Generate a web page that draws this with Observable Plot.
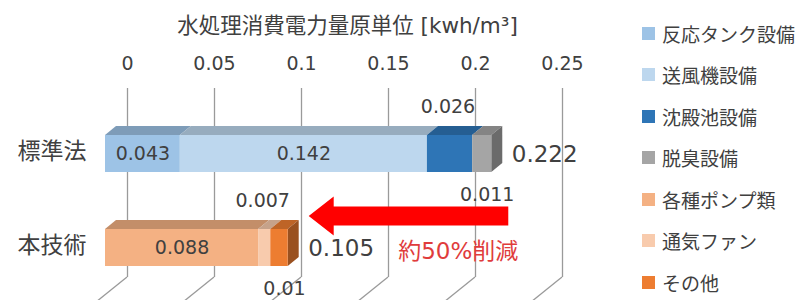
<!DOCTYPE html>
<html><head><meta charset="utf-8">
<script src="https://cdn.jsdelivr.net/npm/d3@7"></script>
<script src="https://cdn.jsdelivr.net/npm/@observablehq/plot@0.6"></script>
<style>
body{margin:0;background:#fff;}
#wrap{position:relative;width:797px;height:300px;overflow:hidden;background:#fff;}
#chart{position:absolute;left:0;top:0;}
#legend{position:absolute;left:642px;top:12.25px;}
.item{display:flex;align-items:center;height:41.5px;font-family:'Noto Sans CJK JP',sans-serif;font-size:19px;color:#404040;white-space:nowrap;}
.sw{width:13px;height:13px;margin-right:7px;flex:none;}
</style></head>
<body><div id="wrap"><div id="chart"></div><div id="legend"></div></div>
<script>
// ---- data ----
const title = "水処理消費電力量原単位 [kwh/m³]";
const categories = ["標準法", "本技術"];
const seriesNames = ["反応タンク設備", "送風機設備", "沈殿池設備", "脱臭設備", "各種ポンプ類", "通気ファン", "その他"];
const seriesColors = ["#9DC3E6", "#BDD7EE", "#2E75B6", "#A5A5A5", "#F4B183", "#F8CBAD", "#ED7D31"];
const standardSeries = ["反応タンク設備", "送風機設備", "沈殿池設備", "脱臭設備"];
const standardValues = [0.043, 0.142, 0.026, 0.011];
const standardLabelPlace = ["inside", "inside", "above", "below"];
const techSeries = ["各種ポンプ類", "通気ファン", "その他"];
const techValues = [0.088, 0.007, 0.010];
const techLabelPlace = ["inside", "above", "below"];
const totals = [0.222, 0.105];
const totalLabels = ["0.222", "0.105"];
const tickValues = [0, 0.05, 0.1, 0.15, 0.2, 0.25];
const tickLabels = ["0", "0.05", "0.1", "0.15", "0.2", "0.25"];
const reductionNote = "約50%削減";

// ---- build stacked segments ----
function stackRows(cat, names, values, places) {
  let acc = 0;
  return names.map((s, i) => {
    const r = {cat, series: s, value: values[i], label: String(values[i]), x1: acc, x2: acc + values[i], place: places[i]};
    acc += values[i];
    return r;
  });
}
const segments = [
  ...stackRows(categories[0], standardSeries, standardValues, standardLabelPlace),
  ...stackRows(categories[1], techSeries, techValues, techLabelPlace)
];
const colorOf = Object.fromEntries(seriesNames.map((s, i) => [s, seriesColors[i]]));
function shade(c, f) { const k = d3.rgb(c); return d3.rgb(k.r * f, k.g * f, k.b * f).formatHex(); }

const depthX = 11, depthY = 9, wallX = 22;
const textColor = "#404040";
const fontFamily = "'DejaVu Sans','Noto Sans CJK JP',sans-serif";

function bw(sy) { return typeof sy.bandwidth === "function" ? sy.bandwidth() : 37; }

// floor diagonals of gridlines
function floorLines(index, scales, values, dims) {
  const g = d3.create("svg:g");
  const yb = dims.height - dims.marginBottom;
  for (const v of tickValues) {
    const gx = scales.x(v) + wallX;
    g.append("line").attr("x1", gx).attr("y1", yb).attr("x2", gx - 31).attr("y2", yb + 25)
      .attr("stroke", "#9a9a9a").attr("stroke-width", 1.3);
  }
  return g.node();
}

// top and side faces of 3D bars
function bar3dFaces(index, scales, values, dims) {
  const g = d3.create("svg:g");
  const b = bw(scales.y);
  for (const cat of categories) {
    const rows = segments.filter(d => d.cat === cat);
    const yTop = scales.y(cat), yBot = yTop + b;
    for (const d of rows) {
      const a = scales.x(d.x1), c = scales.x(d.x2);
      g.append("path")
        .attr("d", `M${a},${yTop}L${c},${yTop}L${c + depthX},${yTop - depthY}L${a + depthX},${yTop - depthY}Z`)
        .attr("fill", shade(colorOf[d.series], 0.8));
    }
    const last = rows[rows.length - 1];
    const e = scales.x(last.x2);
    g.append("path")
      .attr("d", `M${e},${yTop}L${e + depthX},${yTop - depthY}L${e + depthX},${yBot - depthY}L${e},${yBot}Z`)
      .attr("fill", shade(colorOf[last.series], 0.65));
  }
  return g.node();
}

// red reduction arrow from standard total to technology total
function reductionArrow(index, scales, values, dims) {
  const b = bw(scales.y);
  const tip = scales.x(totals[1]) + 21;
  const tail = scales.x(totals[0]) + 17;
  const yc = scales.y(categories[1]) + b / 2 - 31.5;
  const hb = tip + 25, hh = 19.5, sh = 9.5;
  return d3.create("svg:path")
    .attr("d", `M${tip},${yc}L${hb},${yc - hh}L${hb},${yc - sh}L${tail},${yc - sh}L${tail},${yc + sh}L${hb},${yc + sh}L${hb},${yc + hh}Z`)
    .attr("fill", "#FF0000").node();
}

const plot = Plot.plot({
  width: 640, height: 300,
  marginLeft: 105, marginRight: 51, marginTop: 88, marginBottom: 23,
  style: {fontFamily, color: textColor, background: "transparent", overflow: "visible"},
  x: {domain: [0, 0.25], range: [105, 540], label: null},
  y: {domain: categories, range: [87.75, 313.75], paddingInner: 0.6085, paddingOuter: 0.5, label: null},
  color: {domain: seriesNames, range: seriesColors},
  marks: [
    Plot.ruleX(tickValues, {dx: wallX, stroke: "#9a9a9a", strokeWidth: 1.3}),
    floorLines,
    bar3dFaces,
    Plot.barX(segments, {x1: "x1", x2: "x2", y: "cat", fill: "series"}),
    Plot.text(segments.filter(d => d.place === "inside"), {
      x: d => (d.x1 + d.x2) / 2, y: "cat", text: "label", fontSize: 19, fill: textColor, dy: 0
    }),
    Plot.text(segments.filter(d => d.place === "above"), {
      x: d => (d.x1 + d.x2) / 2, y: "cat", text: "label", fontSize: 19, fill: textColor, dy: -47, dx: -2
    }),
    Plot.text(segments.filter(d => d.place === "below"), {
      x: d => (d.x1 + d.x2) / 2, y: "cat", text: "label", fontSize: 19, fill: textColor, dy: 41, dx: 5
    }),
    Plot.text(categories, {
      x: (d, i) => totals[i], y: d => d, text: (d, i) => totalLabels[i],
      textAnchor: "start", dx: 20, dy: 1, fontSize: 23, fill: textColor
    }),
    reductionArrow,
    Plot.text([reductionNote], {
      x: () => totals[1], y: () => categories[1], text: d => d,
      textAnchor: "start", dx: 110, dy: 4, fontSize: 23, fill: "#E03C3C"
    }),
    Plot.axisX(tickValues, {
      anchor: "top", tickSize: 0, tickPadding: 19, dx: wallX, fontSize: 19, fill: textColor,
      tickFormat: d => tickLabels[tickValues.indexOf(d)], label: null
    }),
    Plot.axisY({anchor: "left", tickSize: 0, tickPadding: 19, fontSize: 23, fill: textColor, label: null, dy: -2}),
    Plot.text([title], {
      frameAnchor: "top", dy: -62, lineAnchor: "middle", fontSize: 21.5, fill: textColor, text: d => d
    })
  ]
});
document.getElementById("chart").append(plot);

// legend
const legend = document.getElementById("legend");
seriesNames.forEach((s, i) => {
  const row = document.createElement("div");
  row.className = "item";
  const sw = document.createElement("span");
  sw.className = "sw";
  sw.style.background = seriesColors[i];
  const t = document.createElement("span");
  t.textContent = s;
  row.append(sw, t);
  legend.append(row);
});
</script>
</body></html>
